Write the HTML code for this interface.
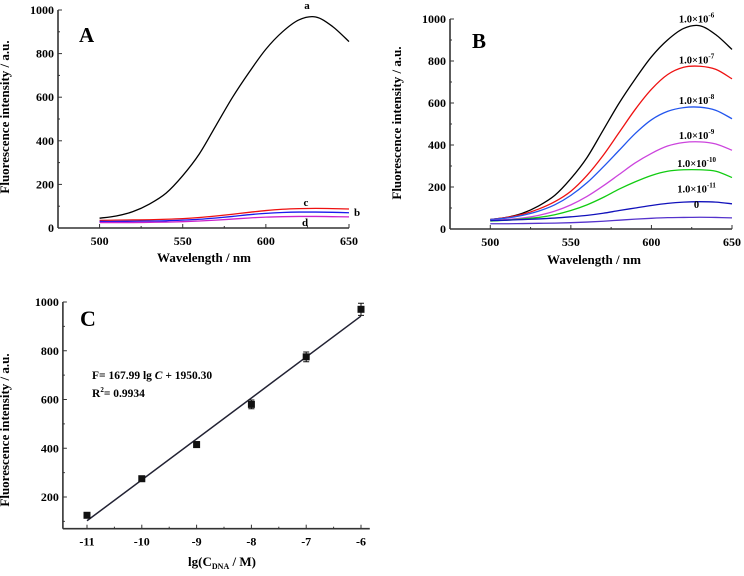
<!DOCTYPE html>
<html><head><meta charset="utf-8"><style>
html,body{margin:0;padding:0;background:#fff;}
svg{display:block;font-family:"Liberation Serif",serif;font-weight:bold;}
</style></head><body>
<svg id="s" width="744" height="576" viewBox="0 0 744 576" xmlns="http://www.w3.org/2000/svg"></svg>
<script>
const wavelengths=[500,510,520,530,540,550,560,570,580,590,600,610,620,630,640,650];
const aA=[45,55,75,110,160,240,340,470,600,715,820,900,955,968,925,855];
const cA=[35,36,37,38,40,43,48,55,63,72,80,86,89,90,89,87];
const bA=[30,30,31,32,33,36,40,46,53,61,67,71,73,73,72,70];
const dA=[25,25,25,26,27,29,32,36,41,46,50,52,53,53,52,51];
const b6=[45,55,75,110,160,240,340,470,600,715,820,900,955,968,925,855];
const b7=[45,55,70,95,130,180,255,350,460,570,665,735,770,775,760,715];
const b8=[45,52,65,85,115,160,220,295,375,455,520,560,578,580,565,525];
const b9=[40,45,52,65,85,115,155,205,260,315,360,395,412,415,405,375];
const b10=[38,42,48,55,68,88,115,150,190,225,255,275,282,282,275,245];
const b11=[40,42,45,48,52,58,65,75,88,100,112,122,128,130,128,120];
const b0=[25,25,26,27,28,30,33,37,42,47,51,54,55,56,55,53];
const seriesLabelsB=["1.0×10","1.0×10","1.0×10","1.0×10","1.0×10","1.0×10","0"];
const seriesExpB=["-6","-7","-8","-9","-10","-11",""];
const concX=[-11,-10,-9,-8,-7,-6];
const concY=[125,275,415,580,775,970];
const concErr=[6,5,12,18,20,25];
const fitSlope=167.99, fitIntercept=1950.30;

const NS="http://www.w3.org/2000/svg";
const S=document.getElementById('s');
function el(tag,attrs,parent,text){const e=document.createElementNS(NS,tag);for(const k in attrs)e.setAttribute(k,attrs[k]);if(text!==undefined)e.textContent=text;(parent||S).appendChild(e);return e;}
function lin(d0,d1,r0,r1){return v=>r0+(v-d0)*(r1-r0)/(d1-d0);}
function smooth(pts){let d="M"+pts[0][0]+","+pts[0][1];for(let i=0;i<pts.length-1;i++){const p0=pts[Math.max(0,i-1)],p1=pts[i],p2=pts[i+1],p3=pts[Math.min(pts.length-1,i+2)];d+=" C"+(p1[0]+(p2[0]-p0[0])/6)+","+(p1[1]+(p2[1]-p0[1])/6)+" "+(p2[0]-(p3[0]-p1[0])/6)+","+(p2[1]-(p3[1]-p1[1])/6)+" "+p2[0]+","+p2[1];}return d;}

function axes(g,x,y,xmin,xmax,ymin,ymax,xt,xminor,yt,yminor,xfmt){
  const X0=x(xmin),X1=x(xmax),Y0=y(ymin),Y1=y(ymax);
  let e=el('line',{x1:X0,y1:Y0,x2:X1,y2:Y0,stroke:'#333',"stroke-width":1.6},g);
  
  e=el('line',{x1:X0,y1:Y0,x2:X0,y2:Y1,stroke:'#333',"stroke-width":1.6},g);
  
  xminor.forEach(v=>{el('line',{x1:x(v),x2:x(v),y1:Y0,y2:Y0-2,stroke:'#333'},g);});
  xt.forEach(v=>{el('line',{x1:x(v),x2:x(v),y1:Y0,y2:Y0-4,stroke:'#333'},g);
    const t=el('text',{x:x(v),y:Y0+17,"text-anchor":"middle","font-size":12},g,xfmt?xfmt(v):v);
    });
  yminor.forEach(v=>{el('line',{x1:X0,x2:X0+2,y1:y(v),y2:y(v),stroke:'#333'},g);});
  yt.forEach(v=>{el('line',{x1:X0,x2:X0+4,y1:y(v),y2:y(v),stroke:'#333'},g);
    const t=el('text',{x:X0-4,y:y(v)+4,"text-anchor":"end","font-size":12},g,v);
    });
}
function title(g,txt,x,y,rot,name){const t=el('text',{x:x,y:y,"text-anchor":"middle","font-size":13,transform:rot?`rotate(-90 ${x} ${y})`:''},g,txt);return t;}

/* Panel A */
{const g=el('g',{});
const x=lin(475,650,58,349),y=lin(0,1000,228,10);
axes(g,x,y,475,650,0,1000,[500,550,600,650],[525,575,625],[0,200,400,600,800,1000],[100,300,500,700,900]);
const ser=[[aA,'#000','curve-a'],[cA,'#ee1111','curve-c'],[bA,'#1a1aee','curve-b'],[dA,'#cc22cc','curve-d']];
ser.forEach(s=>{const p=el('path',{d:smooth(wavelengths.map((w,i)=>[x(w),y(s[0][i])])),fill:'none',stroke:s[1],"stroke-width":1.3},g);});
[['a',307,9],['c',306,206],['b',357,216],['d',305,226]].forEach(l=>{const t=el('text',{x:l[1],y:l[2],"font-size":11,"text-anchor":"middle"},g,l[0]);});
const L=el('text',{x:79,y:42,"font-size":21},g,'A');
title(g,'Fluorescence intensity / a.u.',9,117,true,'y-axis-title');
title(g,'Wavelength / nm',204,262,false,'x-axis-title');}

/* Panel B */
{const g=el('g',{});
const x=lin(475,650,450,732),y=lin(0,1000,229,19);
axes(g,x,y,475,650,0,1000,[500,550,600,650],[525,575,625],[0,200,400,600,800,1000],[100,300,500,700,900]);
const ser=[[b6,'#000'],[b7,'#ee1111'],[b8,'#2255ee'],[b9,'#cc44dd'],[b10,'#11cc11'],[b11,'#1111bb'],[b0,'#5533cc']];
ser.forEach((s,k)=>{const p=el('path',{d:smooth(wavelengths.map((w,i)=>[x(w),y(s[0][i])])),fill:'none',stroke:s[1],"stroke-width":1.3},g);
  const pk=Math.max(...s[0]);const t=el('text',{x:x(628),y:y(pk)-3-(k>=5?6:0),"font-size":10.5,"text-anchor":"middle"},g);
  
  t.appendChild(document.createTextNode(seriesLabelsB[k]));
  if(seriesExpB[k]){el('tspan',{dy:-5,"font-size":7},t,seriesExpB[k]);}});
const L=el('text',{x:472,y:48,"font-size":21},g,'B');
title(g,'Fluorescence intensity / a.u.',401,123,true,'y-axis-title');
title(g,'Wavelength / nm',594,264,false,'x-axis-title');}

/* Panel C */
{const g=el('g',{});
const x=lin(-11,-6,87,361),y=lin(200,1000,497,302);
axes(g,x,y,-11.44,-5.84,70,1000,[-11,-10,-9,-8,-7,-6],[-10.5,-9.5,-8.5,-7.5,-6.5],[200,400,600,800,1000],[100,300,500,700,900]);
const fl=el('line',{x1:x(-11),y1:y(fitSlope*-11+fitIntercept),x2:x(-6),y2:y(fitSlope*-6+fitIntercept),stroke:'#223',"stroke-width":1.5},g);

concX.forEach((c,i)=>{const cx=x(c),cy=y(concY[i]);
  const e=el('path',{d:`M${cx},${y(concY[i]-concErr[i])}V${y(concY[i]+concErr[i])}M${cx-3},${y(concY[i]-concErr[i])}h6M${cx-3},${y(concY[i]+concErr[i])}h6`,stroke:'#111',"stroke-width":1,fill:'none'},g);
  
  const r=el('rect',{x:cx-3.5,y:cy-3.5,width:7,height:7,fill:'#111'},g);});
const L=el('text',{x:80,y:326,"font-size":22},g,'C');
const eq=el('text',{x:92,y:379,"font-size":11.5},g);
eq.appendChild(document.createTextNode('F= 167.99 lg '));el('tspan',{"font-style":"italic"},eq,'C');eq.appendChild(document.createTextNode(' + 1950.30'));
const r2=el('text',{x:92,y:397,"font-size":11.5},g);
r2.appendChild(document.createTextNode('R'));el('tspan',{dy:-5,"font-size":7},r2,'2');el('tspan',{dy:5},r2,'= 0.9934');
title(g,'Fluorescence intensity / a.u.',9,430,true,'y-axis-title');
const xt=el('text',{x:222,y:566,"text-anchor":"middle","font-size":13},g);
xt.appendChild(document.createTextNode('lg(C'));el('tspan',{dy:3,"font-size":8},xt,'DNA');el('tspan',{dy:-3},xt,' / M)');}
</script>
</body></html>
